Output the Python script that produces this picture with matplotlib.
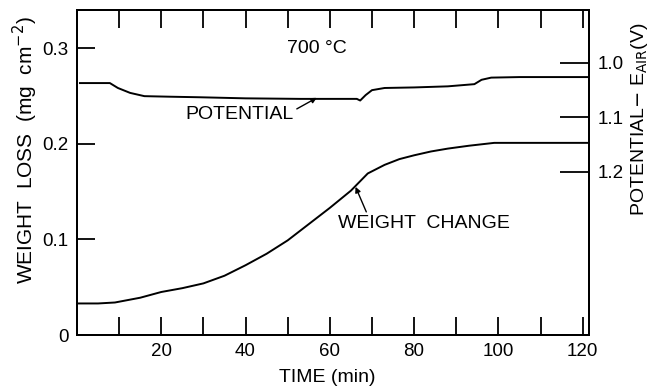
import matplotlib
matplotlib.use("Agg")
import matplotlib.pyplot as plt
import numpy as np

plt.rcParams['font.family'] = ['Liberation Sans', 'DejaVu Sans']

# Weight change (mg cm^-2) vs time (min)
w_time = [0, 5, 9, 15, 20, 25, 30, 35, 40, 45, 50, 55, 60, 65, 69, 73, 76.5, 80, 84, 88, 93, 97, 99, 105, 112, 121.3]
w_loss = [0.033, 0.033, 0.034, 0.039, 0.045, 0.049, 0.054, 0.062, 0.073, 0.085, 0.099, 0.116, 0.133, 0.151, 0.169, 0.178, 0.184, 0.188, 0.192, 0.195, 0.198, 0.200, 0.201, 0.201, 0.201, 0.201]

# Potential - E_air (V) vs time (min)
p_time = [0.7, 7.8, 9.7, 12.6, 16, 22, 29, 40, 53, 66.4, 67.2, 68.5, 70, 73, 80, 88, 94.3, 96, 98.3, 105, 112, 121.3]
p_volt = [1.037, 1.037, 1.046, 1.055, 1.061, 1.062, 1.063, 1.065, 1.066, 1.066, 1.069, 1.059, 1.050, 1.046, 1.045, 1.043, 1.039, 1.031, 1.027, 1.026, 1.026, 1.026]

x_ticks_major = [20, 40, 60, 80, 100, 120]
x_ticks_minor = [10, 30, 50, 70, 90, 110]
left_ticks = [0, 0.1, 0.2, 0.3]
left_labels = ['0', '0.1', '0.2', '0.3']
right_ticks = [1.0, 1.1, 1.2]
right_labels = ['1.0', '1.1', '1.2']

FS_TICK = 13.5
FS_TEXT = 14

fig = plt.figure(figsize=(6.51, 3.91), dpi=100)
ax = fig.add_axes([77/651, 1-335/391, (589-77)/651, (335-10)/391])

ax.plot(w_time, w_loss, color='black', lw=1.4)
ax.set_xlim(0, 121.5)
ax.set_ylim(0, 0.34)

ax.set_xticks(x_ticks_major)
ax.set_xticks(x_ticks_minor, minor=True)
ax.set_yticks(left_ticks)
ax.set_yticklabels(left_labels)
ax.tick_params(axis='x', which='both', direction='in', length=13, width=1.3,
               top=True, bottom=True, labelsize=FS_TICK, pad=6)
ax.tick_params(axis='y', which='both', direction='in', length=13, width=1.3,
               labelsize=FS_TICK, pad=6)
for s in ax.spines.values():
    s.set_linewidth(1.4)

fig.text(327/651, 1-377/391, 'TIME (min)', fontsize=FS_TEXT, ha='center', va='center')
fig.text(25/651, 1-150/391, 'WEIGHT  LOSS  (mg  cm$^{-2}$)', fontsize=15,
         ha='center', va='center', rotation=90)

ax2 = ax.twinx()
ax2.plot(p_time, p_volt, color='black', lw=1.4)
ax2.set_ylim(1.499, 0.903)
ax2.set_yticks(right_ticks)
ax2.set_yticklabels(right_labels)
ax2.tick_params(axis='y', direction='in', length=21, width=1.3, labelsize=FS_TICK, pad=6)
for s in ax2.spines.values():
    s.set_linewidth(1.4)
fig.text(640/651, 1-119/391, 'POTENTIAL$-$ E$_{\\mathrm{AIR}}$(V)', fontsize=FS_TEXT,
         ha='center', va='center', rotation=90)

ax.text(49.8, 0.30, '700 °C', fontsize=FS_TEXT, ha='left', va='center')

ax2.annotate('POTENTIAL', xy=(56.9, 1.064), xytext=(51.5, 1.095),
             fontsize=FS_TEXT, ha='right', va='center',
             arrowprops=dict(arrowstyle='-|>', color='black', lw=1.0,
                             shrinkA=0, shrinkB=0, mutation_scale=8,
                             relpos=(1.0, 0.75)))
ax.annotate('WEIGHT  CHANGE', xy=(66.1, 0.155), xytext=(62, 0.117),
            fontsize=FS_TEXT, ha='left', va='center',
            arrowprops=dict(arrowstyle='-|>', color='black', lw=1.0,
                            shrinkA=0, shrinkB=0, mutation_scale=8,
                            relpos=(0.17, 1.0)))

fig.savefig('out.png', dpi=100)
